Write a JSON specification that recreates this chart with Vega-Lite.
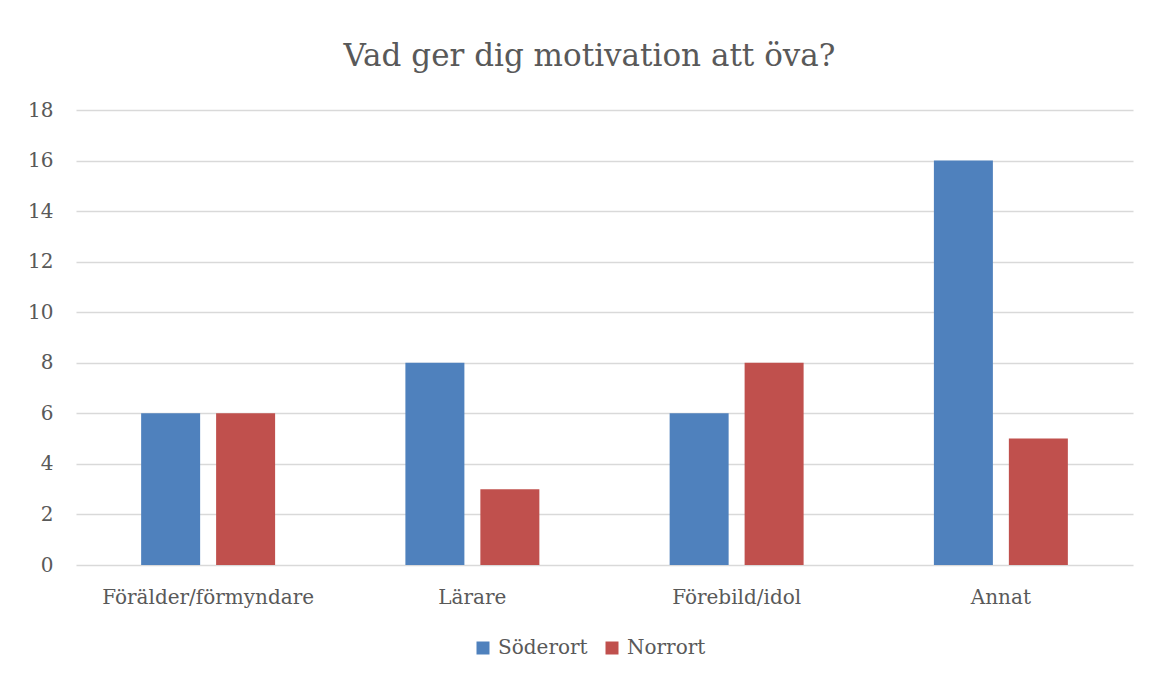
{
  "$schema": "https://vega.github.io/schema/vega-lite/v6.json",
  "width": 1057,
  "height": 455,
  "autosize": {"type": "none"},
  "padding": {"left": 76, "top": 110, "right": 17, "bottom": 111},
  "background": "white",
  "title": {
    "text": "Vad ger dig motivation att öva?",
    "font": "DejaVu Serif",
    "fontSize": 31,
    "fontWeight": "normal",
    "color": "#595959",
    "anchor": "middle",
    "dx": -15,
    "offset": 27
  },
  "data": {
    "values": [
      {"kategori": "Förälder/förmyndare", "serie": "Söderort", "antal": 6},
      {"kategori": "Förälder/förmyndare", "serie": "Norrort", "antal": 6},
      {"kategori": "Lärare", "serie": "Söderort", "antal": 8},
      {"kategori": "Lärare", "serie": "Norrort", "antal": 3},
      {"kategori": "Förebild/idol", "serie": "Söderort", "antal": 6},
      {"kategori": "Förebild/idol", "serie": "Norrort", "antal": 8},
      {"kategori": "Annat", "serie": "Söderort", "antal": 16},
      {"kategori": "Annat", "serie": "Norrort", "antal": 5}
    ]
  },
  "mark": {"type": "bar"},
  "encoding": {
    "x": {
      "field": "kategori",
      "type": "nominal",
      "sort": ["Förälder/förmyndare", "Lärare", "Förebild/idol", "Annat"],
      "scale": {"paddingInner": 0.493, "paddingOuter": 0.2465},
      "axis": {
        "title": null,
        "labelAngle": 0,
        "labelLimit": 400,
        "ticks": false,
        "domain": false,
        "labelPadding": 22,
        "labelFont": "DejaVu Serif",
        "labelFontSize": 20,
        "labelColor": "#595959"
      }
    },
    "xOffset": {
      "field": "serie",
      "type": "nominal",
      "sort": ["Söderort", "Norrort"],
      "scale": {"paddingInner": 0.213, "paddingOuter": 0}
    },
    "y": {
      "field": "antal",
      "type": "quantitative",
      "scale": {"domain": [0, 18], "nice": false},
      "axis": {
        "title": null,
        "values": [0, 2, 4, 6, 8, 10, 12, 14, 16, 18],
        "ticks": false,
        "domain": false,
        "labelPadding": 23,
        "labelFont": "DejaVu Serif",
        "labelFontSize": 20,
        "labelColor": "#595959",
        "gridColor": "#D9D9D9",
        "gridWidth": 1.5
      }
    },
    "color": {
      "field": "serie",
      "type": "nominal",
      "sort": ["Söderort", "Norrort"],
      "scale": {"domain": ["Söderort", "Norrort"], "range": ["#4F81BD", "#C0504D"]},
      "legend": {
        "title": null,
        "orient": "none",
        "direction": "horizontal",
        "legendX": 397,
        "legendY": 528,
        "symbolType": "square",
        "symbolSize": 169,
        "symbolStrokeWidth": 0,
        "symbolOpacity": 1,
        "labelFont": "DejaVu Serif",
        "labelFontSize": 20,
        "labelColor": "#595959",
        "labelOffset": 5,
        "columnPadding": 14
      }
    }
  },
  "config": {
    "view": {"stroke": null}
  }
}
